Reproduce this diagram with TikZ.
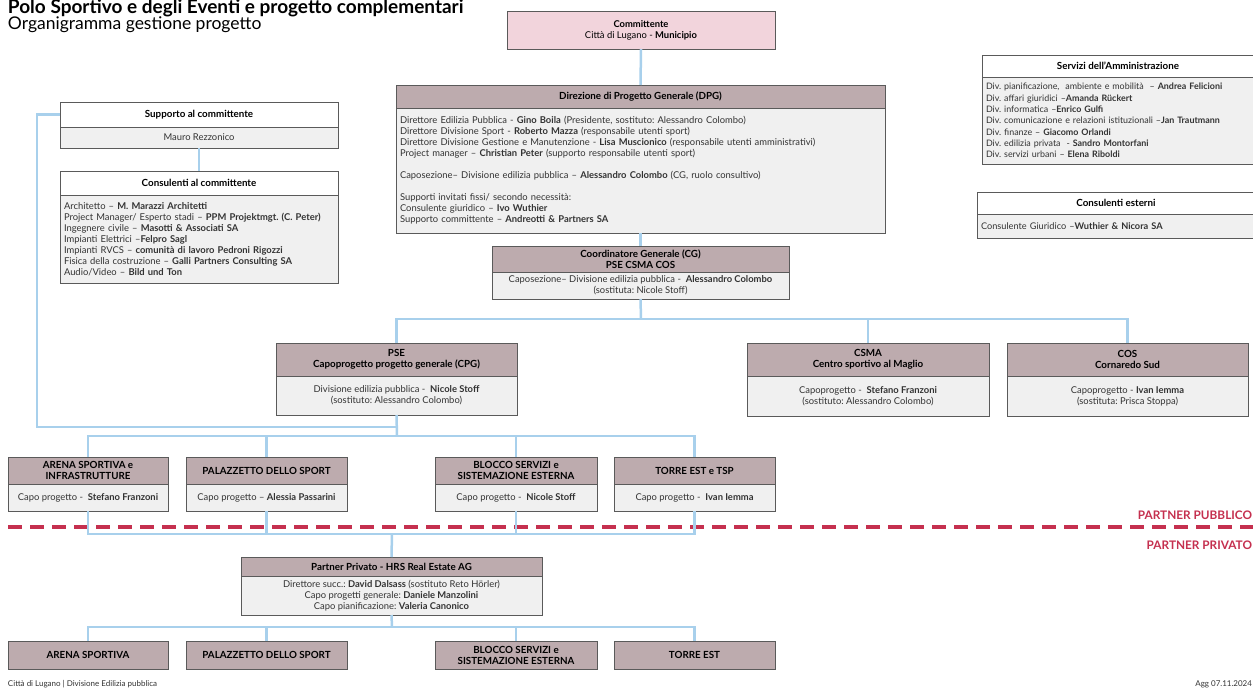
\documentclass[tikz,border=0pt]{standalone}
\usepackage{fontspec}
\setmainfont{Lato}
\frenchspacing
\definecolor{hdrc}{HTML}{BDABAE}
\definecolor{bodyg}{HTML}{F0F0F0}
\definecolor{pinkc}{HTML}{F2D4DC}
\definecolor{connc}{HTML}{A8D0EC}
\definecolor{redd}{HTML}{C5304F}
\definecolor{framec}{HTML}{5A5A5A}
\definecolor{txtc}{HTML}{333333}
\tikzset{
 every node/.style={inner sep=0pt, outer sep=0pt},
 headbox/.style={draw=framec, line width=0.7pt, fill=hdrc, anchor=north west, align=center, text=black, font=\fontsize{9.8}{11}\selectfont\bfseries},
 whitehead/.style={headbox, fill=white},
 bodybox/.style={draw=framec, line width=0.7pt, fill=bodyg, anchor=north west, align=center, text=txtc, font=\fontsize{9.4}{11}\selectfont},
 leftbox/.style={bodybox, align=left, inner xsep=4pt},
 link/.style={draw=connc, line width=2.5pt},
 partner/.style={text=redd, anchor=base east, font=\fontsize{11.8}{14}\selectfont\bfseries},
}
\begin{document}
\begin{tikzpicture}[x=1pt,y=-1pt]
\useasboundingbox (0,0) rectangle (1253,688);
\fill[white] (0,0) rectangle (1253,688);
% titles
\node[anchor=base west, font=\fontsize{19}{20}\selectfont\bfseries] (title) at (8,13) {Polo Sportivo e degli Eventi e progetto complementari};
\node[anchor=base west, font=\fontsize{17.5}{20}\selectfont] (subtitle) at (8,29) {Organigramma gestione progetto};
% partner line
\coordinate (dl) at (8,527);
\coordinate (dr) at (1260,527);
\draw[draw=redd, line width=3.5pt, dash pattern=on 14pt off 8pt] (dl) -- (dr);
\node[partner] (ppub) at (1252,519) {PARTNER PUBBLICO};
\node[partner] (ppriv) at (1252,549) {PARTNER PRIVATO};
% Committente
\node[bodybox, fill=pinkc, text=black, minimum width=268pt, minimum height=38pt] (comm) at (507,11) {\textbf{Committente}\\Città di Lugano - \textbf{Municipio}};
% DPG
\node[headbox, minimum width=489pt, minimum height=23pt] (dpgH) at (396,85) {Direzione di Progetto Generale (DPG)};
\node[leftbox, text width=481pt, minimum height=125pt] (dpgB) at (dpgH.south west) {Direttore Edilizia Pubblica - \textbf{Gino Boila} (Presidente, sostituto: Alessandro Colombo)\\
Direttore Divisione Sport - \textbf{Roberto Mazza} (responsabile utenti sport)\\
Direttore Divisione Gestione e Manutenzione - \textbf{Lisa Muscionico} (responsabile utenti amministrativi)\\
Project manager – \textbf{Christian Peter} (supporto responsabile utenti sport)\\[11pt]
Caposezione– Divisione edilizia pubblica – \textbf{Alessandro Colombo} (CG, ruolo consultivo)\\[11pt]
Supporti invitati fissi/ secondo necessità:\\
Consulente giuridico – \textbf{Ivo Wuthier}\\
Supporto committente – \textbf{Andreotti \& Partners SA}};
% CG
\node[headbox, minimum width=297pt, minimum height=26pt] (cgH) at (492,246) {Coordinatore Generale (CG)\\PSE CSMA COS};
\node[bodybox, minimum width=297pt, minimum height=27pt] (cgB) at (cgH.south west) {Caposezione– Divisione edilizia pubblica -\ \ \textbf{Alessandro Colombo}\\(sostituta: Nicole Stoff)};
% Supporto
\node[whitehead, minimum width=278pt, minimum height=25pt] (supH) at (60,102) {Supporto al committente};
\node[bodybox, minimum width=278pt, minimum height=21pt] (supB) at (supH.south west) {Mauro Rezzonico};
\node[whitehead, minimum width=278pt, minimum height=24pt] (conH) at (60,171) {Consulenti al committente};
\node[leftbox, text width=270pt, minimum height=88pt] (conB) at (conH.south west) {Architetto – \textbf{M. Marazzi Architetti}\\
Project Manager/ Esperto stadi – \textbf{PPM Projektmgt. (C. Peter)}\\
Ingegnere civile – \textbf{Masotti \& Associati SA}\\
Impianti Elettrici –\textbf{Felpro Sagl}\\
Impianti RVCS – \textbf{comunità di lavoro Pedroni Rigozzi}\\
Fisica della costruzione – \textbf{Galli Partners Consulting SA}\\
Audio/Video – \textbf{Bild und Ton}};
% Servizi
\node[whitehead, minimum width=272pt, minimum height=22pt] (serH) at (982,55) {Servizi dell’Amministrazione};
\node[leftbox, text width=264pt, minimum height=87pt, font=\fontsize{8.9}{11.3}\selectfont] (serB) at (serH.south west) {Div. pianificazione,\ \ ambiente e mobilità\ \ – \textbf{Andrea Felicioni}\\
Div. affari giuridici –\textbf{Amanda Rückert}\\
Div. informatica –\textbf{Enrico Gulfi}\\
Div. comunicazione e relazioni istituzionali –\textbf{Jan Trautmann}\\
Div. finanze – \textbf{Giacomo Orlandi}\\
Div. edilizia privata\ \ - \textbf{Sandro Montorfani}\\
Div. servizi urbani – \textbf{Elena Riboldi}};
\node[whitehead, minimum width=278pt, minimum height=22pt] (ceH) at (977,192) {Consulenti esterni};
\node[leftbox, text width=270pt, minimum height=24pt, font=\fontsize{9.2}{11}\selectfont] (ceB) at (ceH.south west) {Consulente Giuridico –\textbf{Wuthier \& Nicora SA}};
% PSE CSMA COS
\node[headbox, minimum width=241pt, minimum height=33pt] (pseH) at (276,343) {PSE\\Capoprogetto progetto generale (CPG)};
\node[bodybox, minimum width=241pt, minimum height=39pt] (pseB) at (pseH.south west) {Divisione edilizia pubblica -\ \ \textbf{Nicole Stoff}\\(sostituto: Alessandro Colombo)};
\node[headbox, minimum width=242pt, minimum height=33pt] (csmaH) at (747,343) {CSMA\\Centro sportivo al Maglio};
\node[bodybox, minimum width=242pt, minimum height=40pt] (csmaB) at (csmaH.south west) {Capoprogetto -\ \ \textbf{Stefano Franzoni}\\(sostituto: Alessandro Colombo)};
\node[headbox, minimum width=241pt, minimum height=33pt] (cosH) at (1007,343) {COS\\Cornaredo Sud};
\node[bodybox, minimum width=241pt, minimum height=40pt] (cosB) at (cosH.south west) {Capoprogetto -\ \textbf{Ivan Iemma}\\(sostituta: Prisca Stoppa)};
% level 4
\node[headbox, minimum width=160pt, minimum height=27pt] (arH) at (8,457) {ARENA SPORTIVA e\\INFRASTRUTTURE};
\node[bodybox, minimum width=160pt, minimum height=27pt] (arB) at (arH.south west) {Capo progetto -\ \ \textbf{Stefano Franzoni}};
\node[headbox, minimum width=161pt, minimum height=27pt] (palH) at (186,457) {PALAZZETTO DELLO SPORT};
\node[bodybox, minimum width=161pt, minimum height=27pt] (palB) at (palH.south west) {Capo progetto – \textbf{Alessia Passarini}};
\node[headbox, minimum width=162pt, minimum height=27pt] (blH) at (435,457) {BLOCCO SERVIZI e\\SISTEMAZIONE ESTERNA};
\node[bodybox, minimum width=162pt, minimum height=27pt] (blB) at (blH.south west) {Capo progetto -\ \ \textbf{Nicole Stoff}};
\node[headbox, minimum width=161pt, minimum height=27pt] (toH) at (614,457) {TORRE EST e TSP};
\node[bodybox, minimum width=161pt, minimum height=27pt] (toB) at (toH.south west) {Capo progetto -\ \ \textbf{Ivan Iemma}};
% Partner privato
\node[headbox, minimum width=301pt, minimum height=19pt] (ppH) at (241,557) {Partner Privato - HRS Real Estate AG};
\node[bodybox, minimum width=301pt, minimum height=39pt] (ppB) at (ppH.south west) {Direttore succ.: \textbf{David Dalsass} (sostituto Reto Hörler)\\Capo progetti generale: \textbf{Daniele Manzolini}\\Capo pianificazione: \textbf{Valeria Canonico}};
% bottom row
\node[headbox, minimum width=160pt, minimum height=28pt] (ar2) at (8,641) {ARENA SPORTIVA};
\node[headbox, minimum width=161pt, minimum height=28pt] (pal2) at (186,641) {PALAZZETTO DELLO SPORT};
\node[headbox, minimum width=162pt, minimum height=28pt] (bl2) at (435,641) {BLOCCO SERVIZI e\\SISTEMAZIONE ESTERNA};
\node[headbox, minimum width=161pt, minimum height=28pt] (to2) at (614,641) {TORRE EST};
% footer
\node[anchor=base west, text=txtc, font=\fontsize{8}{9}\selectfont] (foot) at (8,686) {Città di Lugano | Divisione Edilizia pubblica};
\node[anchor=base east, text=txtc, font=\fontsize{8}{9}\selectfont] (agg) at (1252,686) {Agg 07.11.2024};
% connectors
\draw[link] (comm.south) -- (dpgH.north);
\draw[link] (dpgB.south) -- (cgH.north);
\coordinate (busA) at (641,319);
\draw[link] (cgB.south) -- (busA);
\draw[link] (pseH.north) |- (busA) -| (csmaH.north);
\draw[link] (busA) -| (cosH.north);
\coordinate (busB) at (397,436);
\draw[link] (pseB.south) -- (busB);
\draw[link] (arH.north) |- (busB) -| (toH.north);
\draw[link] (palH.north) |- (busB);
\draw[link] (blH.north) |- (busB);
\coordinate (supC) at (37,427);
\draw[link] (supH.west) -| (supC) -- (supC -| busB);
\draw[link] (supB.south) -- (conH.north);
\coordinate (busC) at (392,534);
\draw[link] (arB.south) |- (busC) -| (toB.south);
\draw[link] (palB.south) |- (busC);
\draw[link] (blB.south) |- (busC);
\draw[link] (busC) -- (ppH.north);
\coordinate (busD) at (392,627);
\draw[link] (ppB.south) -- (busD);
\draw[link] (ar2.north) |- (busD) -| (to2.north);
\draw[link] (pal2.north) |- (busD);
\draw[link] (bl2.north) |- (busD);
\end{tikzpicture}
\end{document}
